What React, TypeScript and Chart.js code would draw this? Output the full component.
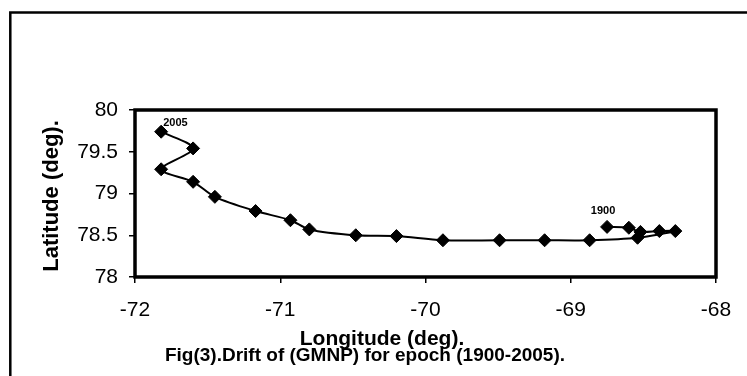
import React, { useEffect, useRef } from "react";
import { Chart, registerables } from "chart.js";

Chart.register(...registerables);

// Pole positions, ordered from 1900 to 2005
const longitudes = [-68.75, -68.6, -68.52, -68.39, -68.28, -68.54, -68.87, -69.18, -69.49, -69.88, -70.2, -70.48, -70.8, -70.93, -71.17, -71.45, -71.6, -71.82, -71.6, -71.82];
const latitudes = [78.6, 78.59, 78.54, 78.55, 78.55, 78.47, 78.44, 78.44, 78.44, 78.44, 78.49, 78.5, 78.57, 78.68, 78.79, 78.96, 79.14, 79.29, 79.54, 79.74];
const xTickValues = [-72, -71, -70, -69, -68];
const yTickValues = [78, 78.5, 79, 79.5, 80];
const firstEpoch = "1900";
const lastEpoch = "2005";
const xTitle = "Longitude (deg).";
const yTitle = "Latitude (deg).";
const caption = "Fig(3).Drift of (GMNP) for epoch (1900-2005).";

const FONT = '"Liberation Sans", Arial, sans-serif';

export default function App() {
  const ref = useRef<HTMLCanvasElement | null>(null);
  useEffect(() => {
    if (!ref.current) return;
    const points = longitudes.map((x, i) => ({ x, y: latitudes[i] }));
    const decor = {
      id: "decor",
      beforeDraw(chart: any) {
        const ctx = chart.ctx;
        ctx.save();
        ctx.fillStyle = "#fff";
        ctx.fillRect(0, 0, chart.width, chart.height);
        ctx.strokeStyle = "#000";
        ctx.lineWidth = 2.5;
        ctx.beginPath();
        ctx.moveTo(10.3, chart.height + 5);
        ctx.lineTo(10.3, 12.5);
        ctx.lineTo(chart.width + 5, 12.5);
        ctx.stroke();
        ctx.restore();
      },
      afterDraw(chart: any) {
        const ctx = chart.ctx;
        const a = chart.chartArea;
        ctx.save();
        ctx.strokeStyle = "#000";
        ctx.lineWidth = 3.5;
        ctx.strokeRect(a.left, a.top, a.right - a.left, a.bottom - a.top);
        ctx.fillStyle = "#000";
        ctx.textAlign = "center";
        ctx.textBaseline = "alphabetic";
        ctx.font = "bold 21px " + FONT;
        ctx.fillText(xTitle, 382, 345);
        ctx.font = "bold 19px " + FONT;
        ctx.fillText(caption, 365, 361);
        ctx.save();
        ctx.translate(58, 196);
        ctx.rotate(-Math.PI / 2);
        ctx.font = "bold 22px " + FONT;
        ctx.fillText(yTitle, 0, 0);
        ctx.restore();
        const xs = chart.scales.x;
        const ys = chart.scales.y;
        ctx.font = "bold 11px " + FONT;
        const n = longitudes.length - 1;
        ctx.textAlign = "left";
        ctx.fillText(lastEpoch, xs.getPixelForValue(longitudes[n]) + 2, ys.getPixelForValue(latitudes[n]) - 6);
        ctx.textAlign = "center";
        ctx.fillText(firstEpoch, xs.getPixelForValue(longitudes[0]) - 4, ys.getPixelForValue(latitudes[0]) - 13);
        ctx.restore();
      },
    };
    const chart = new Chart(ref.current, {
      type: "scatter",
      data: {
        datasets: [
          {
            data: points,
            showLine: true,
            tension: 0.3,
            borderColor: "#000",
            borderWidth: 2,
            pointStyle: "rectRot",
            pointRadius: 6.5,
            pointBackgroundColor: "#000",
            pointBorderColor: "#000",
            pointBorderWidth: 1,
          },
        ],
      },
      options: {
        animation: false,
        responsive: false,
        layout: { padding: { left: 0, top: 110, right: 31, bottom: 0 } },
        plugins: { legend: { display: false }, tooltip: { enabled: false } },
        scales: {
          x: {
            type: "linear",
            min: -72,
            max: -68,
            afterBuildTicks: (s: any) => {
              s.ticks = xTickValues.map((v) => ({ value: v }));
            },
            afterFit: (s: any) => {
              s.height = 99;
            },
            grid: { drawOnChartArea: false, drawTicks: true, tickLength: 6, color: "#000", lineWidth: 1.5 },
            border: { display: false },
            ticks: { color: "#000", font: { family: FONT, size: 21 }, padding: 15, maxRotation: 0, callback: (v: any) => String(v) },
          },
          y: {
            type: "linear",
            min: 78,
            max: 80,
            afterBuildTicks: (s: any) => {
              s.ticks = yTickValues.map((v) => ({ value: v }));
            },
            afterFit: (s: any) => {
              s.width = 135;
            },
            grid: { drawOnChartArea: false, drawTicks: true, tickLength: 6, color: "#000", lineWidth: 1.5 },
            border: { display: false },
            ticks: { color: "#000", font: { family: FONT, size: 21 }, padding: 11, callback: (v: any) => String(v) },
          },
        },
      },
      plugins: [decor],
    });
    return () => chart.destroy();
  }, []);
  return (
    <div style={{ position: "absolute", left: 0, top: 0, width: 747, height: 376 }}>
      <canvas ref={ref} width={747} height={376} style={{ display: "block" }} />
    </div>
  );
}
